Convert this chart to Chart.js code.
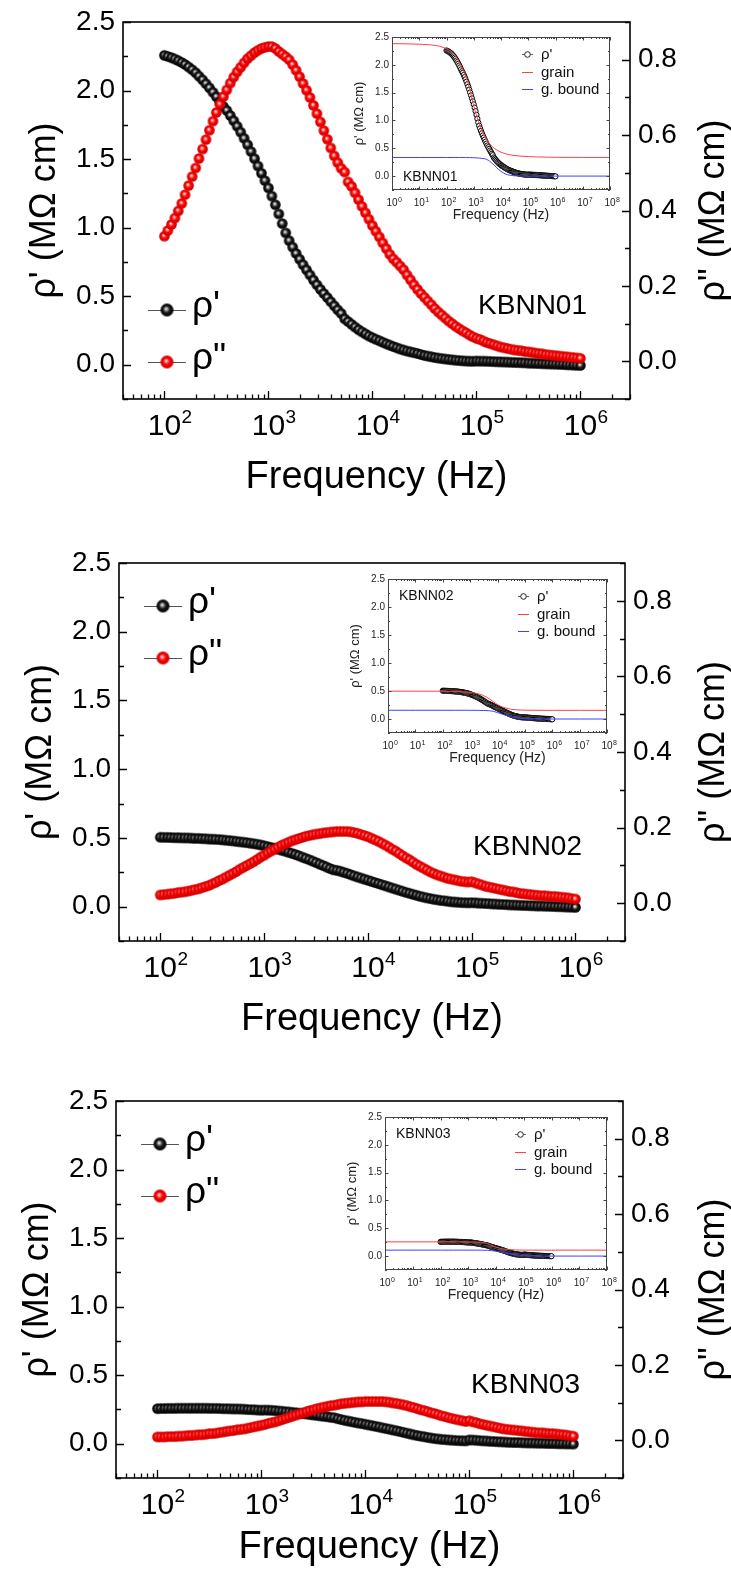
<!DOCTYPE html>
<html>
<head>
<meta charset="utf-8">
<script src="https://cdn.jsdelivr.net/npm/chart.js@4.4.0/dist/chart.umd.min.js"></script>
<style>
  html, body { margin: 0; padding: 0; background: #fff; }
  body { width: 731px; height: 1569px; position: relative; overflow: hidden; }
  canvas { position: absolute; }
</style>
</head>
<body>
<canvas id="main1"></canvas>
<canvas id="main2"></canvas>
<canvas id="main3"></canvas>
<canvas id="inset1"></canvas>
<canvas id="inset2"></canvas>
<canvas id="inset3"></canvas>
<script>
// measured frequencies (Hz), 30 points per decade
const freq = [
  100, 108, 117, 126, 136, 147, 158, 171, 185, 200, 215, 233, 251, 271, 293, 316, 341, 369, 398, 430, 464, 501, 541, 584, 631, 681, 736, 794, 858, 926,
  1000, 1080, 1166, 1259, 1359, 1468, 1585, 1711, 1848, 1995, 2154, 2326, 2512, 2712, 2929, 3162, 3415, 3687, 3981, 4299, 4642, 5012, 5412, 5843, 6310, 6813, 7356, 7943, 8577, 9261,
  10000, 10798, 11659, 12589, 13594, 14678, 15849, 17113, 18478, 19953, 21544, 23263, 25119, 27123, 29286, 31623, 34146, 36869, 39811, 42987, 46416, 50119, 54117, 58434, 63096, 68129, 73564, 79433, 85770, 92611,
  100000, 107977, 116591, 125893, 135936, 146780, 158489, 171133, 184785, 199526, 215443, 232631, 251189, 271227, 292864, 316228, 341455, 368695, 398107, 429866, 464159, 501187, 541170, 584341, 630957, 681292, 735642, 794328, 857696, 926119,
  1000000
];

// KBNN01
const rhoRe1 = [
  2.257, 2.249, 2.240, 2.230, 2.218, 2.205, 2.190, 2.172, 2.152, 2.130, 2.105, 2.078, 2.050, 2.020, 1.988, 1.955, 1.918, 1.884, 1.855, 1.818, 1.780, 1.740, 1.697, 1.652, 1.605, 1.555, 1.503, 1.450, 1.397, 1.343,
  1.290, 1.230, 1.167, 1.100, 1.030, 0.962, 0.905, 0.858, 0.812, 0.770, 0.730, 0.692, 0.655, 0.618, 0.583, 0.550, 0.520, 0.490, 0.460, 0.430, 0.401, 0.375, 0.335, 0.315, 0.295, 0.275, 0.256, 0.240, 0.225, 0.210,
  0.197, 0.186, 0.175, 0.164, 0.153, 0.143, 0.133, 0.124, 0.115, 0.107, 0.100, 0.094, 0.088, 0.082, 0.075, 0.068, 0.063, 0.058, 0.053, 0.049, 0.045, 0.042, 0.039, 0.036, 0.033, 0.031, 0.029, 0.027, 0.026, 0.025,
  0.027, 0.026, 0.026, 0.025, 0.024, 0.023, 0.022, 0.021, 0.020, 0.019, 0.018, 0.017, 0.016, 0.015, 0.014, 0.012, 0.011, 0.010, 0.009, 0.008, 0.007, 0.006, 0.005, 0.004, 0.003, 0.002, 0.000, -0.001, -0.002, -0.004,
  -0.005
];
const rhoIm1 = [
  0.332, 0.347, 0.363, 0.380, 0.399, 0.419, 0.442, 0.466, 0.490, 0.513, 0.538, 0.563, 0.588, 0.613, 0.637, 0.660, 0.682, 0.702, 0.720, 0.738, 0.754, 0.768, 0.780, 0.792, 0.803, 0.811, 0.819, 0.825, 0.830, 0.833,
  0.835, 0.835, 0.830, 0.822, 0.815, 0.808, 0.800, 0.787, 0.772, 0.755, 0.737, 0.719, 0.700, 0.679, 0.657, 0.635, 0.612, 0.589, 0.566, 0.545, 0.527, 0.512, 0.502, 0.476, 0.464, 0.447, 0.429, 0.411, 0.394, 0.377,
  0.360, 0.345, 0.330, 0.314, 0.299, 0.284, 0.272, 0.263, 0.253, 0.243, 0.229, 0.216, 0.203, 0.191, 0.180, 0.170, 0.160, 0.150, 0.140, 0.131, 0.123, 0.115, 0.107, 0.100, 0.093, 0.087, 0.081, 0.076, 0.070, 0.065,
  0.061, 0.058, 0.054, 0.050, 0.047, 0.044, 0.041, 0.038, 0.036, 0.034, 0.032, 0.030, 0.029, 0.028, 0.026, 0.025, 0.024, 0.022, 0.021, 0.020, 0.018, 0.017, 0.016, 0.015, 0.014, 0.013, 0.012, 0.011, 0.010, 0.009,
  0.008
];

// KBNN02
const rhoRe2 = [
  0.505, 0.504, 0.504, 0.503, 0.502, 0.502, 0.501, 0.500, 0.500, 0.498, 0.497, 0.497, 0.495, 0.494, 0.492, 0.491, 0.490, 0.488, 0.486, 0.483, 0.481, 0.478, 0.475, 0.472, 0.469, 0.466, 0.462, 0.458, 0.454, 0.449,
  0.443, 0.437, 0.431, 0.425, 0.418, 0.411, 0.404, 0.396, 0.388, 0.380, 0.371, 0.361, 0.352, 0.342, 0.332, 0.321, 0.310, 0.300, 0.289, 0.278, 0.268, 0.264, 0.258, 0.250, 0.242, 0.233, 0.224, 0.216, 0.208, 0.200,
  0.192, 0.184, 0.176, 0.168, 0.160, 0.152, 0.144, 0.136, 0.128, 0.120, 0.112, 0.104, 0.097, 0.090, 0.083, 0.076, 0.070, 0.064, 0.059, 0.054, 0.050, 0.046, 0.043, 0.040, 0.036, 0.034, 0.032, 0.030, 0.029, 0.028,
  0.029, 0.028, 0.026, 0.025, 0.023, 0.022, 0.020, 0.019, 0.017, 0.016, 0.015, 0.013, 0.012, 0.011, 0.010, 0.009, 0.008, 0.007, 0.006, 0.005, 0.005, 0.004, 0.003, 0.002, 0.001, 0.000, 0.000, -0.002, -0.003, -0.004,
  -0.005
];
const rhoIm2 = [
  0.022, 0.023, 0.024, 0.025, 0.026, 0.028, 0.029, 0.030, 0.032, 0.034, 0.036, 0.038, 0.041, 0.044, 0.047, 0.051, 0.055, 0.060, 0.064, 0.069, 0.074, 0.079, 0.084, 0.090, 0.095, 0.100, 0.105, 0.110, 0.116, 0.122,
  0.127, 0.133, 0.138, 0.143, 0.148, 0.153, 0.157, 0.161, 0.165, 0.168, 0.171, 0.174, 0.177, 0.179, 0.181, 0.183, 0.184, 0.186, 0.187, 0.188, 0.189, 0.190, 0.190, 0.190, 0.190, 0.189, 0.187, 0.185, 0.182, 0.179,
  0.176, 0.172, 0.168, 0.164, 0.159, 0.154, 0.149, 0.143, 0.138, 0.132, 0.126, 0.120, 0.115, 0.109, 0.103, 0.098, 0.093, 0.088, 0.083, 0.079, 0.075, 0.072, 0.069, 0.066, 0.064, 0.062, 0.060, 0.058, 0.057, 0.056,
  0.057, 0.054, 0.051, 0.048, 0.045, 0.043, 0.041, 0.039, 0.037, 0.035, 0.033, 0.031, 0.030, 0.028, 0.026, 0.025, 0.024, 0.023, 0.022, 0.021, 0.020, 0.020, 0.019, 0.018, 0.018, 0.017, 0.016, 0.015, 0.014, 0.012,
  0.011
];

// KBNN03
const rhoRe3 = [
  0.256, 0.257, 0.257, 0.258, 0.258, 0.258, 0.259, 0.259, 0.259, 0.259, 0.259, 0.259, 0.259, 0.259, 0.259, 0.258, 0.258, 0.258, 0.257, 0.256, 0.256, 0.255, 0.254, 0.254, 0.253, 0.252, 0.250, 0.249, 0.248, 0.246,
  0.245, 0.246, 0.245, 0.244, 0.242, 0.239, 0.237, 0.234, 0.232, 0.229, 0.226, 0.223, 0.220, 0.217, 0.213, 0.210, 0.207, 0.203, 0.200, 0.197, 0.193, 0.190, 0.183, 0.177, 0.171, 0.166, 0.161, 0.156, 0.151, 0.147,
  0.142, 0.137, 0.132, 0.127, 0.122, 0.116, 0.111, 0.106, 0.100, 0.095, 0.089, 0.083, 0.077, 0.071, 0.065, 0.060, 0.055, 0.051, 0.046, 0.042, 0.038, 0.035, 0.032, 0.030, 0.028, 0.026, 0.024, 0.023, 0.022, 0.021,
  0.028, 0.027, 0.025, 0.023, 0.021, 0.020, 0.018, 0.017, 0.015, 0.014, 0.013, 0.011, 0.010, 0.009, 0.009, 0.008, 0.007, 0.006, 0.006, 0.005, 0.004, 0.004, 0.003, 0.002, 0.002, 0.001, 0.000, 0.000, -0.001, -0.001,
  -0.002
];
const rhoIm3 = [
  0.009, 0.009, 0.009, 0.010, 0.010, 0.010, 0.011, 0.011, 0.012, 0.013, 0.013, 0.014, 0.015, 0.015, 0.016, 0.018, 0.018, 0.019, 0.021, 0.022, 0.024, 0.025, 0.026, 0.028, 0.029, 0.030, 0.032, 0.034, 0.036, 0.038,
  0.040, 0.042, 0.045, 0.047, 0.049, 0.052, 0.055, 0.058, 0.061, 0.064, 0.067, 0.070, 0.073, 0.076, 0.079, 0.081, 0.084, 0.086, 0.088, 0.090, 0.092, 0.093, 0.095, 0.097, 0.098, 0.099, 0.100, 0.101, 0.102, 0.102,
  0.103, 0.103, 0.103, 0.103, 0.103, 0.103, 0.102, 0.101, 0.099, 0.098, 0.096, 0.094, 0.092, 0.089, 0.087, 0.084, 0.081, 0.079, 0.076, 0.073, 0.071, 0.068, 0.065, 0.063, 0.060, 0.058, 0.056, 0.054, 0.052, 0.050,
  0.052, 0.049, 0.047, 0.044, 0.042, 0.040, 0.038, 0.036, 0.034, 0.032, 0.030, 0.029, 0.028, 0.027, 0.026, 0.025, 0.024, 0.023, 0.022, 0.021, 0.020, 0.020, 0.019, 0.018, 0.018, 0.017, 0.016, 0.015, 0.014, 0.012,
  0.011
];

// equivalent-circuit curves (grain / grain boundary) for the insets
const fitFreq = [1, 10, 100, 200, 300, 500, 700, 1000, 1500, 2000, 3000, 5000, 7000, 10000, 15000, 20000, 30000, 50000, 70000, 100000, 200000, 500000, 1000000, 10000000, 100000000];
const grain1 = [2.38, 2.37, 2.29, 2.18, 2.04, 1.80, 1.58, 1.26, 0.98, 0.82, 0.65, 0.52, 0.47, 0.43, 0.40, 0.385, 0.37, 0.36, 0.355, 0.35, 0.345, 0.34, 0.338, 0.335, 0.335];
const bound1 = [0.334, 0.334, 0.334, 0.334, 0.334, 0.333, 0.332, 0.330, 0.325, 0.318, 0.30, 0.22, 0.15, 0.085, 0.035, 0.018, 0.006, 0.002, 0.001, 0, 0, 0, 0, 0, 0];
const grain2 = [0.497, 0.497, 0.496, 0.494, 0.492, 0.488, 0.482, 0.475, 0.462, 0.450, 0.420, 0.360, 0.310, 0.258, 0.215, 0.196, 0.176, 0.164, 0.160, 0.158, 0.156, 0.155, 0.155, 0.155, 0.155];
const bound2 = [0.156, 0.156, 0.156, 0.156, 0.156, 0.156, 0.156, 0.155, 0.155, 0.154, 0.152, 0.148, 0.137, 0.115, 0.085, 0.068, 0.042, 0.020, 0.010, 0.005, 0.002, 0, 0, 0, 0];
const grain3 = [0.256, 0.256, 0.256, 0.256, 0.255, 0.255, 0.254, 0.253, 0.252, 0.251, 0.248, 0.225, 0.190, 0.160, 0.135, 0.125, 0.116, 0.111, 0.109, 0.108, 0.107, 0.107, 0.107, 0.107, 0.107];
const bound3 = [0.107, 0.107, 0.107, 0.107, 0.107, 0.107, 0.107, 0.107, 0.107, 0.107, 0.106, 0.104, 0.097, 0.088, 0.072, 0.060, 0.042, 0.022, 0.012, 0.006, 0.002, 0, 0, 0, 0];

// axis ticks
const leftTicks = [0, 0.5, 1, 1.5, 2, 2.5];
const rightTicks = [0, 0.2, 0.4, 0.6, 0.8];
const mainDecades = [2, 3, 4, 5, 6];
const insetDecades = [0, 1, 2, 3, 4, 5, 6, 7, 8];

const FONT = '"Liberation Sans", Arial, sans-serif';

// page geometry of each panel (plot box + canvas band)
const panels = {
  main1: { name: 'KBNN01', re: rhoRe1, im: rhoIm1, left: 123, right: 630, top: 22, bottom: 399, cTop: 0, cH: 525, legY: 288, titleGap: 89 },
  main2: { name: 'KBNN02', re: rhoRe2, im: rhoIm2, left: 119, right: 625, top: 563, bottom: 941, cTop: 525, cH: 525, legY: 43, titleGap: 89 },
  main3: { name: 'KBNN03', re: rhoRe3, im: rhoIm3, left: 116, right: 623, top: 1101, bottom: 1478, cTop: 1050, cH: 519, legY: 43, titleGap: 80 }
};
const insets = {
  inset1: { name: 'KBNN01', re: rhoRe1, grain: grain1, bound: bound1, l: 392, r: 610, t: 37, b: 190, nameTop: false },
  inset2: { name: 'KBNN02', re: rhoRe2, grain: grain2, bound: bound2, l: 388, r: 607, t: 579, b: 733, nameTop: true },
  inset3: { name: 'KBNN03', re: rhoRe3, grain: grain3, bound: bound3, l: 385, r: 607, t: 1117, b: 1270, nameTop: true }
};

function pts(xs, ys) {
  return xs.map((x, i) => ({ x: x, y: ys[i] }));
}

// shaded ball used as point marker
function ball(r, hi, mid, base, edge) {
  const c = document.createElement('canvas');
  const s = Math.ceil(r * 2 + 2);
  c.width = c.height = s;
  const g = c.getContext('2d');
  const cx = s / 2;
  const grad = g.createRadialGradient(cx - r * 0.15, cx - r * 0.2, 0.2, cx, cx, r);
  grad.addColorStop(0, hi);
  grad.addColorStop(0.25, mid);
  grad.addColorStop(0.5, base);
  grad.addColorStop(1, edge);
  g.fillStyle = grad;
  g.beginPath();
  g.arc(cx, cx, r, 0, Math.PI * 2);
  g.fill();
  return c;
}
const redBall = ball(5.3, '#fff2f2', '#ff6666', '#ff0000', '#c80000');
const blackBall = ball(5.3, '#f4f4f4', '#8a8a8a', '#1a1a1a', '#000000');
const redBallBig = ball(6.5, '#fff2f2', '#ff6666', '#ff0000', '#c80000');
const blackBallBig = ball(6.5, '#f4f4f4', '#8a8a8a', '#1a1a1a', '#000000');

function txt(ctx, s, x, y, size, align, base) {
  ctx.font = size + 'px ' + FONT;
  ctx.textAlign = align || 'left';
  ctx.textBaseline = base || 'alphabetic';
  ctx.fillText(s, x, y);
}
function vtxt(ctx, s, x, y, size) {
  ctx.save();
  ctx.translate(x, y);
  ctx.rotate(-Math.PI / 2);
  txt(ctx, s, 0, 0, size, 'center');
  ctx.restore();
}
function pow10(ctx, e, x, y, big, small, lift) {
  ctx.font = big + 'px ' + FONT;
  const w = ctx.measureText('10').width;
  txt(ctx, '10', x, y, big, 'center');
  txt(ctx, String(e), x + w / 2 + 0.5, y - lift, small, 'left');
}
function logTicks(lo, hi) {
  const out = [];
  for (let d = Math.floor(Math.log10(lo)); d <= Math.ceil(Math.log10(hi)); d++) {
    for (let m = 1; m <= 9; m++) {
      const v = m * Math.pow(10, d);
      if (v >= lo * 0.999 && v <= hi * 1.001) out.push({ v: v, major: m === 1 });
    }
  }
  return out;
}

const mainDecor = {
  id: 'mainDecor',
  afterDraw(chart) {
    const p = panels[chart.canvas.id];
    const ctx = chart.ctx, a = chart.chartArea;
    const sx = chart.scales.x, sy = chart.scales.y, sy2 = chart.scales.y2;
    ctx.save();
    ctx.fillStyle = '#000';
    ctx.strokeStyle = '#000';

    ctx.lineWidth = 1.6;
    ctx.strokeRect(a.left, a.top, a.right - a.left, a.bottom - a.top);

    // inward ticks
    ctx.lineWidth = 1.3;
    ctx.beginPath();
    logTicks(sx.min, sx.max).forEach(t => {
      const px = Math.round(sx.getPixelForValue(t.v)) + 0.5;
      ctx.moveTo(px, a.bottom);
      ctx.lineTo(px, a.bottom - (t.major ? 8 : 4.5));
    });
    for (let v = -0.25; v <= 2.5001; v += 0.25) {
      const py = Math.round(sy.getPixelForValue(v)) + 0.5;
      const major = Math.abs(v / 0.5 - Math.round(v / 0.5)) < 1e-6;
      ctx.moveTo(a.left, py);
      ctx.lineTo(a.left + (major ? 8 : 5), py);
    }
    for (let v = -0.1; v <= 0.9001; v += 0.1) {
      const py = Math.round(sy2.getPixelForValue(v)) + 0.5;
      const major = Math.round(v * 10) % 2 === 0;
      ctx.moveTo(a.right, py);
      ctx.lineTo(a.right - (major ? 8 : 5), py);
    }
    ctx.stroke();

    // tick labels
    leftTicks.forEach(v => txt(ctx, v.toFixed(1), a.left - 8, sy.getPixelForValue(v), 28, 'right', 'middle'));
    rightTicks.forEach(v => txt(ctx, v.toFixed(1), a.right + 8, sy2.getPixelForValue(v), 28, 'left', 'middle'));
    mainDecades.forEach(e => pow10(ctx, e, sx.getPixelForValue(Math.pow(10, e)), a.bottom + 36, 30, 19, 12));

    // axis titles
    const cy = (a.top + a.bottom) / 2;
    txt(ctx, 'Frequency (Hz)', (a.left + a.right) / 2, a.bottom + p.titleGap, 38, 'center');
    vtxt(ctx, "ρ' (MΩ cm)", a.left - 68, cy, 36);
    vtxt(ctx, 'ρ" (MΩ cm)', 724, cy, 36);

    // legend
    const lx = a.left + 44;
    [[blackBallBig, "ρ'", a.top + p.legY], [redBallBig, 'ρ"', a.top + p.legY + 52]].forEach(r => {
      ctx.strokeStyle = '#555';
      ctx.lineWidth = 1;
      ctx.beginPath();
      ctx.moveTo(lx - 19, r[2] + 0.5);
      ctx.lineTo(lx + 19, r[2] + 0.5);
      ctx.stroke();
      ctx.drawImage(r[0], lx - r[0].width / 2, r[2] - r[0].height / 2);
      txt(ctx, r[1], lx + 25, r[2] + 7, 37, 'left');
    });

    txt(ctx, p.name, a.right - 43, a.top + 284, 28, 'right', 'middle');
    ctx.restore();
  }
};

const insetDecor = {
  id: 'insetDecor',
  afterDraw(chart) {
    const p = insets[chart.canvas.id];
    const ctx = chart.ctx, a = chart.chartArea;
    const sx = chart.scales.x, sy = chart.scales.y;
    ctx.save();
    ctx.fillStyle = '#222';
    ctx.strokeStyle = '#444';
    ctx.lineWidth = 1;
    ctx.strokeRect(a.left + 0.5, a.top + 0.5, a.right - a.left - 1, a.bottom - a.top - 1);

    ctx.beginPath();
    logTicks(sx.min, sx.max).forEach(t => {
      const px = Math.round(sx.getPixelForValue(t.v)) + 0.5;
      const len = t.major ? 3.5 : 2;
      ctx.moveTo(px, a.bottom); ctx.lineTo(px, a.bottom - len);
      ctx.moveTo(px, a.top); ctx.lineTo(px, a.top + len);
    });
    for (let v = -0.25; v <= 2.5001; v += 0.25) {
      const py = Math.round(sy.getPixelForValue(v)) + 0.5;
      const major = Math.abs(v / 0.5 - Math.round(v / 0.5)) < 1e-6;
      const len = major ? 3.5 : 2;
      ctx.moveTo(a.left, py); ctx.lineTo(a.left + len, py);
      ctx.moveTo(a.right, py); ctx.lineTo(a.right - len, py);
    }
    ctx.stroke();

    leftTicks.forEach(v => txt(ctx, v.toFixed(1), a.left - 3, sy.getPixelForValue(v), 10, 'right', 'middle'));
    insetDecades.forEach(e => pow10(ctx, e, sx.getPixelForValue(Math.pow(10, e)), a.bottom + 16, 10, 7, 4));

    txt(ctx, 'Frequency (Hz)', (a.left + a.right) / 2, a.bottom + 29, 14, 'center');
    vtxt(ctx, "ρ' (MΩ cm)", a.left - 29, (a.top + a.bottom) / 2, 13);

    // legend
    const sx0 = a.left + 130, tx = a.left + 149;
    const rows = [a.top + 17, a.top + 35, a.top + 52];
    ctx.lineWidth = 1;
    ctx.strokeStyle = '#666';
    ctx.beginPath(); ctx.moveTo(sx0, rows[0] + 0.5); ctx.lineTo(sx0 + 11, rows[0] + 0.5); ctx.stroke();
    ctx.fillStyle = '#fff';
    ctx.strokeStyle = '#222';
    ctx.beginPath(); ctx.arc(sx0 + 5.5, rows[0] + 0.5, 2.8, 0, Math.PI * 2); ctx.fill(); ctx.stroke();
    ctx.strokeStyle = '#ff4040';
    ctx.beginPath(); ctx.moveTo(sx0, rows[1] + 0.5); ctx.lineTo(sx0 + 11, rows[1] + 0.5); ctx.stroke();
    ctx.strokeStyle = '#4040ff';
    ctx.beginPath(); ctx.moveTo(sx0, rows[2] + 0.5); ctx.lineTo(sx0 + 11, rows[2] + 0.5); ctx.stroke();
    ctx.fillStyle = '#111';
    txt(ctx, "ρ'", tx, rows[0] + 5, 15);
    txt(ctx, 'grain', tx, rows[1] + 5, 15);
    txt(ctx, 'g. bound', tx, rows[2] + 5, 15);

    const ny = p.nameTop ? a.top + 17 : a.bottom - 13;
    txt(ctx, p.name, a.left + 11, ny, 14, 'left', 'middle');
    ctx.restore();
  }
};

const hidden = { grid: { display: false }, border: { display: false }, ticks: { display: false } };

function mainChart(id) {
  const p = panels[id];
  const el = document.getElementById(id);
  el.width = 731; el.height = p.cH;
  el.style.left = '0px'; el.style.top = p.cTop + 'px';
  return new Chart(el, {
    type: 'scatter',
    data: {
      datasets: [
        { label: 'ρ"', data: pts(freq, p.im), yAxisID: 'y2', pointStyle: redBall, pointRadius: 5.3, order: 0 },
        { label: "ρ'", data: pts(freq, p.re), yAxisID: 'y', pointStyle: blackBall, pointRadius: 5.3, order: 1 }
      ]
    },
    options: {
      responsive: false,
      animation: false,
      events: [],
      layout: { padding: { top: p.top - p.cTop, left: 0, right: 0, bottom: 0 } },
      plugins: { legend: { display: false }, tooltip: { enabled: false } },
      scales: {
        x: Object.assign({ type: 'logarithmic', min: 40, max: 3e6,
          afterFit: s => { s.height = p.cTop + p.cH - p.bottom; } }, hidden),
        y: Object.assign({ position: 'left', min: -0.25, max: 2.5,
          afterFit: s => { s.width = p.left; } }, hidden),
        y2: Object.assign({ position: 'right', min: -0.1, max: 0.9,
          afterFit: s => { s.width = 731 - p.right; } }, hidden)
      }
    },
    plugins: [mainDecor]
  });
}

function insetChart(id) {
  const p = insets[id];
  const el = document.getElementById(id);
  el.width = p.r - p.l + 60;
  el.height = p.b - p.t + 12 + 38;
  el.style.left = (p.l - 50) + 'px';
  el.style.top = (p.t - 12) + 'px';
  return new Chart(el, {
    type: 'scatter',
    data: {
      datasets: [
        { label: 'grain', data: pts(fitFreq, p.grain), showLine: true, borderColor: '#ff4040', borderWidth: 1,
          pointRadius: 0, cubicInterpolationMode: 'monotone', order: 0 },
        { label: 'g. bound', data: pts(fitFreq, p.bound), showLine: true, borderColor: '#4040ff', borderWidth: 1,
          pointRadius: 0, cubicInterpolationMode: 'monotone', order: 0 },
        { label: "ρ'", data: pts(freq, p.re), pointStyle: 'circle', pointRadius: 2.6, borderWidth: 1,
          borderColor: '#000000', backgroundColor: '#ffffff', order: 1 }
      ]
    },
    options: {
      responsive: false,
      animation: false,
      events: [],
      layout: { padding: { top: 12, right: 10, left: 0, bottom: 0 } },
      plugins: { legend: { display: false }, tooltip: { enabled: false } },
      scales: {
        x: Object.assign({ type: 'logarithmic', min: 1, max: 1e8,
          afterFit: s => { s.height = 38; } }, hidden),
        y: Object.assign({ position: 'left', min: -0.25, max: 2.5,
          afterFit: s => { s.width = 50; } }, hidden)
      }
    },
    plugins: [insetDecor]
  });
}

['main1', 'main2', 'main3'].forEach(mainChart);
['inset1', 'inset2', 'inset3'].forEach(insetChart);
</script>
</body>
</html>
